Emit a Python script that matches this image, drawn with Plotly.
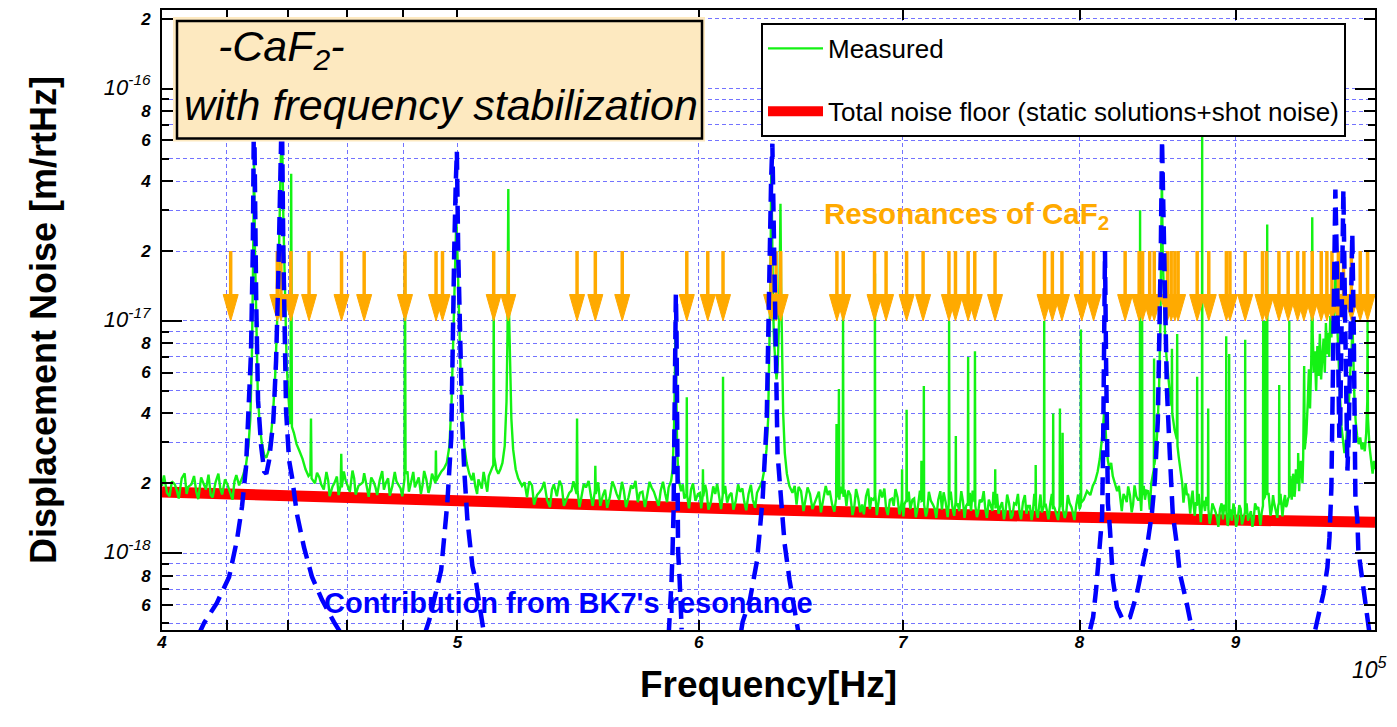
import math
import plotly.graph_objects as go

# ---------------------------------------------------------------------------
# DATA  (frequency in kHz, amplitude in units of 1e-18 m/rtHz)
# ---------------------------------------------------------------------------
measured = [
    (400.0, 1.95), (401.5, 1.82), (403.0, 2.04), (404.5, 1.86), (406.0, 2.10), (407.5, 1.80),
    (409.0, 1.98), (410.5, 1.84), (412.0, 2.12), (413.5, 1.88), (415.0, 1.78), (416.5, 2.02),
    (418.0, 1.90), (419.5, 2.08), (421.0, 1.85), (422.5, 2.04), (424.0, 1.96),
    (425.2, 2.15), (426.2, 2.40), (427.0, 2.9), (427.6, 3.8), (428.1, 7.0), (428.5, 18),
    (428.8, 49), (429.1, 20), (429.5, 9.0), (430.0, 5.0), (430.6, 3.6), (431.3, 3.0),
    (432.1, 2.65), (432.8, 2.58), (433.5, 2.75), (434.3, 3.2), (435.0, 4.0), (435.7, 5.8),
    (436.3, 9.5), (436.9, 18), (437.4, 40), (437.9, 75), (438.4, 28), (438.9, 12),
    (439.5, 6.5), (440.2, 4.5), (440.75, 3.6), (441.0, 43), (441.25, 3.5), (441.9, 3.3),
    (442.8, 2.95), (443.8, 2.75), (444.8, 2.55), (445.8, 2.3), (446.8, 2.15), (447.45, 2.2),
    (447.65, 3.8), (447.85, 2.1), (449.0, 2.0),
    (450.5, 2.12), (452.0, 1.88), (453.5, 2.06), (455.0, 1.94), (456.5, 2.14), (457.8, 1.96),
    (458.0, 2.68), (458.2, 1.92), (459.5, 2.06), (461.0, 1.84), (462.5, 2.10), (464.0, 1.95),
    (465.5, 2.02), (467.0, 1.86), (468.5, 2.12), (470.0, 1.92), (471.5, 2.06), (473.0, 1.88),
    (474.5, 2.10), (476.0, 1.94), (477.5, 2.04), (479.0, 1.90), (480.4, 2.08), (480.6, 19),
    (480.8, 2.2), (481.5, 2.25), (482.8, 2.02), (484.2, 1.92), (485.6, 2.12), (487.0, 1.96),
    (488.4, 2.08), (489.8, 1.94), (491.0, 2.12), (491.8, 2.0), (491.95, 2.77), (492.1, 2.05),
    (493.0, 2.15), (494.0, 2.25), (495.0, 2.32), (496.0, 2.45), (497.0, 2.9), (497.8, 4.5),
    (498.4, 8), (499.0, 17), (499.6, 27.7), (500.1, 18), (500.7, 9), (501.3, 5.5),
    (501.9, 3.8), (502.6, 2.9), (503.5, 2.45), (504.5, 2.2), (505.5, 2.06), (506.8, 1.94),
    (508.0, 2.08), (509.3, 1.90), (510.6, 2.04), (512.0, 2.15), (513.0, 2.3), (513.75, 2.4),
    (513.9, 12), (514.1, 2.6), (514.9, 2.3), (515.7, 2.2), (516.5, 2.3), (517.3, 2.45),
    (518.2, 2.9), (518.9, 4.5), (519.3, 9), (519.45, 24), (519.6, 37), (519.8, 12),
    (520.3, 6), (520.8, 3.8), (521.5, 2.8), (522.5, 2.3), (523.5, 2.1), (525.0, 1.95),
    (527.0, 1.74), (529.0, 1.96), (531.0, 1.78), (533.0, 1.90), (535.0, 1.70), (537.0, 1.88),
    (539.0, 1.76), (541.0, 1.95), (543.0, 1.72), (545.0, 1.86), (547.1, 1.80), (547.3, 3.8),
    (547.5, 1.85), (549.0, 1.72), (551.0, 1.92), (553.0, 1.78), (554.75, 1.86), (554.9, 2.38),
    (555.1, 1.80), (557.0, 1.60), (559.0, 1.88), (561.0, 1.74), (563.0, 1.93), (565.0, 1.70),
    (567.0, 1.86), (569.0, 1.74), (571.0, 1.90), (573.0, 1.66), (575.0, 1.84), (577.0, 1.76),
    (579.0, 1.92), (581.0, 1.72), (583.0, 1.86), (585.0, 1.80), (586.5, 1.92), (587.6, 2.05),
    (588.3, 2.3), (588.9, 3.5), (589.3, 6), (589.6, 10.8), (589.9, 5), (590.3, 2.8),
    (590.9, 2.1), (592.0, 1.85), (593.5, 1.72), (594.45, 1.80), (594.6, 4.7), (594.75, 1.78),
    (596.5, 1.88), (598.5, 1.68), (600.5, 1.82), (601.75, 1.75), (601.9, 2.3), (602.05, 1.76),
    (603.5, 1.86), (605.5, 1.66), (607.5, 1.80), (609.5, 1.72), (610.95, 1.78), (611.1, 5.75),
    (611.25, 1.80), (613.0, 1.65), (615.0, 1.82), (617.0, 1.68), (619.0, 1.84), (621.0, 1.66),
    (623.0, 1.80), (625.0, 1.70), (627.0, 1.82), (628.5, 1.95), (629.5, 2.05), (630.5, 2.3),
    (631.5, 2.8), (632.3, 3.8), (632.9, 7), (633.4, 15), (633.8, 48.6), (634.2, 22),
    (634.6, 12), (635.1, 8.2), (635.7, 6.3), (636.3, 5.6), (636.9, 6.5), (637.5, 10),
    (637.9, 18), (638.2, 32), (638.5, 14), (638.9, 7), (639.5, 4), (640.3, 2.7),
    (641.3, 2.2), (642.5, 1.95), (644.0, 1.82),
    (646.0, 1.62), (648.2, 1.85), (650.4, 1.70), (652.6, 1.80), (654.8, 1.64), (657.0, 1.84),
    (659.2, 1.68), (661.4, 1.78), (663.6, 1.62), (665.6, 1.72), (665.8, 3.6), (666.0, 1.75),
    (666.8, 1.8), (667.0, 5.1), (667.2, 1.7), (668.9, 1.8), (669.1, 10.5), (669.3, 1.75),
    (670.8, 1.60), (672.8, 1.78), (674.8, 1.58), (676.8, 1.72), (678.8, 1.62), (680.8, 1.76),
    (682.8, 1.55), (684.6, 1.70), (685.3, 1.75), (685.4, 16), (685.55, 1.8), (687.2, 1.62),
    (689.2, 1.74), (691.2, 1.56), (693.2, 1.70), (695.2, 1.60), (697.2, 1.74), (699.0, 1.58),
    (699.5, 1.7), (699.6, 2.3), (699.7, 1.68), (700.8, 1.62), (701.9, 1.7), (702.0, 4.15),
    (702.15, 1.66), (704.0, 1.55), (706.0, 1.72), (708.0, 1.58), (709.8, 1.7), (709.9, 2.5),
    (710.0, 1.68), (711.1, 1.7), (711.2, 5.25), (711.35, 1.62), (713.0, 1.52), (715.0, 1.68),
    (717.0, 1.56), (719.0, 1.70), (721.0, 1.54), (723.0, 1.66), (724.7, 1.62), (724.9, 10),
    (725.1, 1.7), (726.7, 1.58), (728.45, 1.66), (728.6, 3.2), (728.75, 1.6), (730.5, 1.52),
    (732.5, 1.68), (734.3, 1.6), (735.25, 1.65), (735.4, 7), (735.55, 1.6), (737.0, 1.52),
    (739.0, 1.66), (739.2, 7.4), (739.4, 1.6), (741.0, 1.5), (743.0, 1.66), (745.0, 1.55),
    (747.0, 1.70), (749.0, 1.52), (750.45, 1.62), (750.6, 2.3), (750.75, 1.56), (752.5, 1.48),
    (754.5, 1.66), (756.5, 1.52), (758.5, 1.64), (760.5, 1.46), (762.5, 1.62), (764.5, 1.50),
    (766.5, 1.66), (768.5, 1.48), (770.5, 1.60), (772.3, 1.52), (773.8, 1.6), (773.9, 2.4),
    (774.1, 1.55), (776.0, 1.62), (777.5, 1.5), (778.75, 1.6), (778.9, 10), (779.05, 1.62),
    (780.5, 1.5), (782.5, 1.64), (784.05, 1.55), (784.2, 4.0), (784.35, 1.6), (786.0, 1.48),
    (788.05, 1.6), (788.2, 4.2), (788.35, 1.58), (789.65, 1.62), (789.8, 3.3), (789.95, 1.55),
    (792.0, 1.5), (794.0, 1.64), (796.0, 1.48), (798.0, 1.62), (800.0, 1.55), (800.65, 1.6),
    (800.8, 9.2), (800.95, 1.65), (802.5, 1.7), (804.5, 1.85), (806.5, 1.78), (808.0, 1.95),
    (809.5, 2.05), (811.0, 2.25), (812.3, 2.55), (813.3, 2.9), (814.2, 3.4), (815.0, 4.1),
    (815.7, 3.6), (816.4, 2.9), (817.3, 2.5), (818.3, 2.3), (819.3, 2.45), (820.3, 2.15),
    (821.5, 2.0), (823.0, 1.85), (825.0, 1.72), (827.0, 1.8), (829.0, 1.66), (831.0, 1.78),
    (833.0, 1.62), (835.0, 1.76), (837.25, 1.7), (837.4, 30), (837.55, 1.75), (838.55, 1.8),
    (838.7, 10), (838.85, 1.78), (840.5, 1.7), (842.5, 1.85), (844.5, 2.0), (846.15, 2.3),
    (846.3, 6.9), (846.45, 2.4), (847.5, 2.7), (848.6, 3.6), (849.5, 5.2), (850.3, 9.5),
    (850.9, 22), (851.3, 44), (851.8, 20), (852.5, 12), (853.4, 8.5), (854.3, 7.0),
    (855.3, 5.8), (856.3, 5.0), (857.3, 4.4), (857.6, 4.3), (857.8, 7.6), (858.0, 4.0),
    (859.5, 3.4), (860.7, 3.1), (861.0, 3.1), (861.2, 8.8), (861.4, 2.9), (862.2, 2.6),
    (863.1, 2.3), (864.5, 2.0), (866.0, 1.85), (867.6, 1.78), (869.0, 1.66), (870.5, 1.72),
    (872.0, 1.6), (873.5, 1.66), (874.15, 1.6), (874.3, 5.75), (874.45, 1.62), (876.0, 1.56),
    (877.45, 1.62), (877.6, 64), (877.75, 1.65), (879.5, 1.52), (881.45, 1.6), (881.6, 4.2),
    (881.75, 1.55), (883.5, 1.45), (885.5, 1.58), (887.5, 1.42), (889.5, 1.55), (891.5, 1.40),
    (893.55, 1.52), (893.7, 8.6), (893.85, 1.5), (895.55, 1.45), (895.7, 7.2), (895.85, 1.48),
    (897.5, 1.38), (899.5, 1.52), (901.5, 1.40), (903.5, 1.55), (905.5, 1.42), (906.45, 1.5),
    (906.6, 8.3), (906.75, 1.48), (908.5, 1.38), (910.5, 1.52), (912.5, 1.42), (914.5, 1.56),
    (916.5, 1.44), (918.0, 1.5), (918.85, 1.6), (919.0, 10), (919.15, 1.7), (920.25, 1.75),
    (920.4, 10), (920.55, 1.8), (921.65, 1.8), (921.8, 26), (921.95, 1.8), (923.5, 1.62),
    (925.0, 1.55), (926.5, 1.66), (928.0, 1.52), (929.5, 1.6), (930.05, 1.65), (930.2, 5.3),
    (930.35, 1.62), (931.8, 1.55), (933.5, 1.68), (935.0, 1.58), (936.5, 1.72), (937.15, 1.75),
    (937.3, 10), (937.45, 1.8), (938.5, 1.95), (939.5, 1.85), (940.5, 2.05), (941.5, 1.9),
    (942.5, 2.15), (943.45, 2.0), (943.6, 2.7), (943.75, 2.1), (945.0, 2.35), (946.2, 2.2),
    (947.2, 2.6), (947.9, 6.4), (948.3, 2.8), (949.5, 3.3), (950.5, 4.5), (951.3, 6.2),
    (952.1, 4.2), (953.0, 6.8), (953.5, 12), (953.7, 28), (954.0, 9), (954.8, 6.0),
    (955.6, 7.4), (956.5, 5.0), (957.4, 7.8), (958.3, 5.8), (959.2, 8.8), (960.1, 5.6),
    (961.0, 7.0), (961.9, 8.4), (962.8, 6.0), (963.6, 9.8), (964.4, 7.2), (965.2, 8.9),
    (966.0, 7.0), (966.8, 10.5), (967.6, 8.5), (968.4, 12), (969.2, 9.5), (970.0, 14),
    (970.8, 17), (971.5, 11), (972.3, 7.8), (973.1, 6.0), (974.0, 4.6), (975.0, 3.5),
    (976.0, 3.0), (977.2, 2.7), (978.4, 3.0), (979.5, 3.6), (980.6, 4.6), (981.6, 6.2),
    (982.5, 7.5), (983.1, 10), (983.7, 6.5), (984.5, 4.8), (985.5, 3.7), (986.6, 3.2),
    (987.8, 2.95), (988.9, 3.15), (990.0, 2.8), (991.2, 3.0), (992.3, 2.75), (993.4, 3.3),
    (994.2, 4.5), (994.4, 10), (994.7, 3.8), (995.8, 2.9), (997.0, 2.45), (998.2, 2.2),
    (999.2, 2.5), (1000.0, 2.3),
]

# additional read-off noise samples of the measured floor (between the above)
measured_fuzz = [
    (400.6, 2.16), (402.3, 1.76), (403.9, 1.98), (405.1, 1.72), (406.9, 2.21), (408.0, 1.93),
    (409.8, 2.15), (411.1, 1.71), (412.9, 1.96), (414.3, 2.18), (415.6, 1.74), (417.4, 2.20),
    (418.6, 1.79), (420.3, 1.97), (421.9, 1.70), (423.1, 2.17),
    (449.7, 2.22), (451.1, 1.98), (452.9, 2.24), (454.0, 1.76), (455.6, 2.00), (457.1, 1.78),
    (458.9, 2.25), (460.1, 1.97), (461.9, 2.27), (463.0, 1.79), (464.9, 1.99), (466.0, 2.21),
    (467.6, 1.75), (469.4, 2.02), (470.6, 1.78), (472.4, 2.26), (473.6, 2.00), (475.1, 1.77),
    (476.9, 2.24), (478.0, 1.99), (479.6, 1.76),
    (482.0, 1.84), (483.6, 2.24), (484.8, 2.00), (486.4, 1.80), (487.6, 2.26), (489.2, 1.82),
    (490.5, 2.20),
    (506.1, 2.22), (507.5, 1.80), (508.5, 2.00), (510.0, 2.24), (511.4, 1.84),
    (526.0, 2.02), (527.9, 2.04), (529.8, 1.62), (532.1, 1.84), (533.9, 2.03), (536.2, 1.58),
    (537.8, 1.98), (540.1, 2.05), (541.9, 1.60), (544.1, 1.82), (545.8, 2.04), (548.3, 1.58),
    (550.1, 1.99), (552.1, 2.05), (553.8, 1.60), (556.1, 2.02), (558.1, 1.78), (559.9, 1.57),
    (562.1, 2.04), (563.9, 1.80), (566.2, 2.03), (567.9, 1.58), (570.1, 1.96), (572.0, 2.05),
    (573.9, 1.82), (576.1, 1.58), (578.1, 2.03), (580.0, 1.84), (582.1, 1.60), (584.0, 2.03),
    (585.8, 1.66),
    (592.8, 1.98), (595.6, 1.56), (597.4, 2.00), (599.6, 1.80), (601.1, 1.56), (602.9, 1.97),
    (604.4, 1.54), (606.6, 1.94), (608.4, 1.99), (610.2, 1.55), (612.1, 1.95), (614.1, 1.78),
    (615.9, 1.54), (618.1, 1.98), (620.1, 1.90), (621.9, 1.53), (624.1, 1.97), (626.1, 1.57),
    (645.1, 1.95), (647.0, 1.93), (649.4, 1.52), (651.4, 1.92), (653.8, 1.55), (655.8, 1.74),
    (658.0, 1.50), (660.4, 1.95), (662.4, 1.86), (664.7, 1.51), (667.7, 1.93),
    (669.9, 1.88), (671.7, 1.86), (673.9, 1.46), (675.7, 1.89), (677.9, 1.50), (679.7, 1.47),
    (681.9, 1.90), (683.6, 1.72), (686.4, 1.46), (688.1, 1.88), (690.3, 1.90), (692.1, 1.46),
    (694.3, 1.72), (696.1, 1.89), (698.2, 1.47),
    (700.3, 1.44), (703.1, 1.84), (705.1, 1.70), (706.9, 1.43), (709.1, 1.86), (712.3, 1.44),
    (713.9, 1.84), (716.1, 1.62), (717.9, 1.42), (720.1, 1.85), (721.9, 1.83), (724.1, 1.43),
    (725.8, 1.84), (727.7, 1.45), (729.5, 1.64), (731.6, 1.85), (733.4, 1.42), (736.3, 1.82),
    (737.9, 1.86), (740.3, 1.43), (741.9, 1.70), (744.1, 1.85), (745.9, 1.42), (748.1, 1.60),
    (749.6, 1.84),
    (751.6, 1.80), (753.4, 1.58), (755.6, 1.40), (757.4, 1.79), (759.6, 1.41), (761.4, 1.64),
    (763.6, 1.80), (765.4, 1.40), (767.6, 1.78), (769.4, 1.60), (771.5, 1.39), (773.1, 1.80),
    (775.1, 1.42), (776.7, 1.79), (779.8, 1.62), (781.4, 1.40), (783.4, 1.80), (785.1, 1.56),
    (787.1, 1.39), (788.9, 1.79), (791.1, 1.42), (792.9, 1.78), (795.1, 1.58), (796.9, 1.39),
    (799.1, 1.79),
    (824.1, 1.95), (825.9, 1.52), (828.1, 1.74), (829.9, 1.94), (832.1, 1.50), (833.9, 1.96),
    (836.1, 1.70), (838.1, 1.52), (839.7, 1.95), (841.4, 1.86), (843.6, 1.54),
    (865.3, 1.65), (866.7, 2.00), (868.4, 1.80), (869.7, 1.48), (871.3, 1.86), (872.7, 1.45),
    (875.3, 1.80), (876.7, 1.36), (878.6, 1.66), (880.4, 1.75), (882.6, 1.34), (884.4, 1.64),
    (886.6, 1.50), (888.4, 1.30), (890.6, 1.64), (892.4, 1.62), (894.7, 1.31), (896.4, 1.55),
    (898.6, 1.64), (900.4, 1.30), (902.6, 1.61), (904.4, 1.33), (907.6, 1.64), (909.4, 1.45),
    (911.6, 1.30), (913.4, 1.64), (915.6, 1.58), (917.1, 1.32), (922.8, 1.80), (924.1, 1.45),
    (925.9, 1.78), (927.1, 1.60), (928.9, 1.42), (931.1, 1.80), (932.5, 1.44), (934.3, 1.78),
    (935.7, 1.62), (938.0, 2.15), (939.0, 1.70), (940.0, 2.20), (941.0, 1.75), (942.0, 2.30),
    (944.3, 1.85), (945.6, 2.50), (946.7, 2.00),
]

# Total noise floor (static solutions + shot noise)
floor_khz = [400.0, 480.0, 640.0, 800.0, 1000.0]
floor_amp = [1.836, 1.705, 1.53, 1.427, 1.358]

# Contribution from BK7's resonances (each list is one visible branch)
bk7_430 = [
    (411.0, 0.44), (412.9, 0.50), (416.9, 0.61), (420.8, 0.79), (423.3, 1.14), (424.9, 1.58),
    (426.2, 2.34), (427.1, 3.99), (427.8, 7.2), (428.4, 20), (428.8, 90), (429.5, 12.2),
    (430.1, 4.54), (431.1, 2.9), (432.1, 2.25), (432.8, 2.2), (433.7, 2.51), (435.1, 3.72),
    (436.0, 6.74), (436.7, 14.9), (437.3, 39.9), (437.9, 85), (438.4, 20), (439.3, 4.11),
    (440.3, 2.51), (441.3, 2.12), (442.9, 1.48), (445.3, 1.06), (448.0, 0.79), (451.4, 0.63),
    (455.5, 0.505), (458.5, 0.44),
]
bk7_500 = [
    (487.7, 0.445), (489.5, 0.516), (493.9, 0.845), (495.0, 1.14), (496.2, 1.64), (497.7, 3.15),
    (498.1, 7.2), (498.8, 20), (499.4, 39.9), (499.8, 53.6), (500.3, 20), (501.1, 7.2),
    (501.8, 3.72), (502.6, 2.27), (503.8, 1.39), (505.7, 0.88), (507.2, 0.74), (508.4, 0.6),
    (509.5, 0.49), (510.3, 0.44),
]
bk7_590 = [
    (586.5, 0.44), (586.9, 0.505), (587.8, 0.766), (588.2, 1.0), (588.7, 1.53), (589.1, 3.72),
    (589.4, 9.06), (589.7, 13.0), (590.0, 9.06), (590.5, 2.51), (590.7, 1.03), (591.4, 0.766),
    (591.8, 0.57), (592.3, 0.47),
]
bk7_634 = [
    (619.5, 0.46), (620.2, 0.505), (623.6, 0.628), (627.0, 0.93), (628.2, 1.22), (629.7, 1.74),
    (631.6, 3.72), (632.1, 7.2), (633.0, 20), (633.7, 40), (634.3, 58), (635.2, 20),
    (636.0, 7.2), (636.8, 2.68), (638.8, 1.575), (640.2, 1.1), (642.6, 0.766), (645.0, 0.57),
    (646.5, 0.475), (647.2, 0.44),
]
bk7_815 = [
    (806.4, 0.47), (808.2, 0.53), (810.0, 0.694), (811.2, 0.87), (812.5, 1.17), (813.7, 1.43),
    (814.3, 2.68), (814.6, 7.2), (815.2, 18.1), (815.5, 20), (816.1, 7.2), (816.7, 2.68),
    (817.3, 1.64), (818.6, 1.255), (819.8, 0.96), (820.4, 0.766), (822.9, 0.586), (826.6, 0.516),
    (831.0, 0.53), (835.4, 0.67), (839.3, 0.906), (842.4, 1.137), (844.9, 1.485), (846.8, 2.06),
    (848.7, 3.72), (850.0, 10), (850.6, 20), (851.4, 60), (852.6, 24.3), (853.2, 13.8),
    (854.5, 5.16), (856.4, 2.68), (858.3, 1.485), (860.9, 1.1), (862.9, 0.82), (867.4, 0.61),
    (870.5, 0.49), (871.5, 0.45),
]
bk7_970 = [
    (955.9, 0.47), (958.1, 0.53), (961.8, 0.67), (964.7, 0.87), (966.2, 1.17), (967.6, 1.92),
    (968.4, 3.72), (969.1, 10), (969.8, 22), (970.5, 36.8), (971.6, 18), (972.7, 5.5),
    (973.4, 3.14), (974.1, 3.72), (975.2, 12.2), (976.4, 36.8), (977.5, 12.2), (978.6, 3.37),
    (979.4, 2.27), (980.4, 3.37), (981.5, 10), (983.0, 23.8), (984.1, 9.06), (985.3, 1.74),
    (986.8, 1.386), (987.5, 1.03), (990.5, 0.766), (992.8, 0.61), (994.4, 0.516), (996.0, 0.445),
]

# Resonance frequencies of CaF2 (orange arrows), kHz
caf2_resonances_khz = [
    421.3, 436.4, 437.6, 440.9, 447.0, 458.1, 466.0, 480.6, 492.0, 494.4, 513.9, 519.6,
    547.3, 554.9, 566.3, 594.6, 604.1, 611.1, 633.7, 636.1, 638.3, 666.0, 669.2, 685.2,
    691.2, 702.0, 710.8, 724.8, 728.4, 735.4, 739.1, 750.5, 779.1, 783.7, 789.4, 801.3,
    808.5, 828.0, 836.8, 839.0, 843.5, 846.4, 854.9, 857.3, 859.7, 861.8, 874.3, 882.0,
    893.8, 896.2, 906.6, 918.5, 921.3, 930.0, 936.5, 943.2, 947.7, 953.7, 960.2, 964.3,
    968.0, 972.7, 976.5, 982.3, 988.9, 994.4,
]

# Axis ticks
x_tick_vals = [4e5, 5e5, 6e5, 7e5, 8e5, 9e5]
x_tick_text = ["4", "5", "6", "7", "8", "9"]
x_minor_vals = [4.2e5, 4.4e5, 4.6e5, 4.8e5]
y_tick_vals = [6e-19, 8e-19, 1e-18, 2e-18, 4e-18, 6e-18, 8e-18, 1e-17, 2e-17, 4e-17,
               6e-17, 8e-17, 1e-16, 2e-16]
y_tick_text = ["6", "8", "10|-18", "2", "4", "6", "8", "10|-17", "2", "4",
               "6", "8", "10|-16", "2"]
y_minor_vals = [5e-19, 7e-19, 9e-19, 3e-18, 5e-18, 7e-18, 9e-18, 3e-17, 5e-17, 7e-17, 9e-17]
y_decade_vals = [1e-18, 1e-17, 1e-16]

# Arrow geometry (amplitude levels, in 1e-18 units) - style
ARROW_TOP, ARROW_HEAD_BASE, ARROW_TIP = 20.0, 13.0, 10.0

# ---------------------------------------------------------------------------
FONT = "Liberation Sans, Arial, Helvetica, sans-serif"
W, H = 1397, 727
L, R, T, B = 162, 22, 8, 97
PW, PH = W - L - R, H - T - B
X_RANGE = [math.log10(4e5), 6.0]
Y_RANGE = [-18.3305, -15.661]
PX_PER_DECADE_X = PW / (X_RANGE[1] - X_RANGE[0])


def px(x):
    return (x - L) / PW


def py(y):
    return (H - B - y) / PH


def decade_label(t):
    if "|" in t:
        base, exp = t.split("|")
        return ('<span style="font-weight:normal;font-size:22px">' + base +
                "<sup>" + exp + "</sup></span>")
    return t


KHZ, UNIT = 1e3, 1e-18

meas_all = sorted(measured + measured_fuzz)

fig = go.Figure()

# Total noise floor (red, thick)
fig.add_trace(go.Scatter(
    x=[f * KHZ for f in floor_khz], y=[v * UNIT for v in floor_amp],
    mode="lines", line=dict(color="#ff0000", width=11),
    name="Total noise floor (static solutions+shot noise)",
    legendgroup="floor", legendrank=2,
))

# Measured (green)
fig.add_trace(go.Scatter(
    x=[p[0] * KHZ for p in meas_all], y=[p[1] * UNIT for p in meas_all],
    mode="lines", line=dict(color="#14f214", width=2.4),
    name="Measured", legendgroup="meas", legendrank=1,
))

# CaF2 resonance arrows
half_w = 7.5 / PX_PER_DECADE_X
shaft_x, shaft_y, head_x, head_y = [], [], [], []
for f in caf2_resonances_khz:
    fx = f * KHZ
    shaft_x += [fx, fx, None]
    shaft_y += [ARROW_TOP * UNIT, ARROW_HEAD_BASE * UNIT, None]
    head_x += [fx * 10 ** (-half_w), fx * 10 ** half_w, fx, fx * 10 ** (-half_w), None]
    head_y += [ARROW_HEAD_BASE * UNIT, ARROW_HEAD_BASE * UNIT, ARROW_TIP * UNIT,
               ARROW_HEAD_BASE * UNIT, None]
fig.add_trace(go.Scatter(x=shaft_x, y=shaft_y, mode="lines",
                         line=dict(color="#ffaa00", width=3.5), showlegend=False,
                         hoverinfo="skip"))
fig.add_trace(go.Scatter(x=head_x, y=head_y, mode="lines", fill="toself",
                         fillcolor="#ffaa00", line=dict(color="#ffaa00", width=1),
                         showlegend=False, hoverinfo="skip"))

# BK7 contribution (blue dashed)
bx, by = [], []
for seg in [bk7_430, bk7_500, bk7_590, bk7_634, bk7_815, bk7_970]:
    bx += [p[0] * KHZ for p in seg] + [None]
    by += [p[1] * UNIT for p in seg] + [None]
fig.add_trace(go.Scatter(x=bx, y=by, mode="lines", connectgaps=False,
                         line=dict(color="#0000ff", width=4.5, dash="18px,9px"),
                         showlegend=False, hoverinfo="skip"))

# invisible trace on overlay axis (decade ticks)
fig.add_trace(go.Scatter(x=[None], y=[None], yaxis="y2", showlegend=False, hoverinfo="skip"))

grid_col = "#7373ff"
tickfont = dict(family=FONT, size=17, color="black", style="italic", weight="bold")

fig.update_layout(
    width=W, height=H, autosize=False,
    margin=dict(l=L, r=R, t=T, b=B, pad=0),
    paper_bgcolor="white", plot_bgcolor="white",
    font=dict(family=FONT, color="black"),
    showlegend=True,
    legend=dict(x=px(761), y=py(21), xanchor="left", yanchor="top",
                bgcolor="white", bordercolor="black", borderwidth=2,
                font=dict(family=FONT, size=26, color="black"),
                itemwidth=55, traceorder="grouped", tracegroupgap=26),
    xaxis=dict(
        type="log", range=X_RANGE, showline=True, linecolor="black", linewidth=2,
        mirror="ticks", ticks="inside", ticklen=10, tickwidth=2, tickcolor="black",
        tickvals=x_tick_vals, ticktext=x_tick_text, tickfont=tickfont,
        ticklabelstandoff=-4,
        showgrid=True, gridcolor=grid_col, griddash="4px,3px", gridwidth=1,
        minor=dict(tickvals=x_minor_vals, ticks="inside", ticklen=10, tickwidth=2,
                   tickcolor="black", showgrid=True, gridcolor=grid_col,
                   griddash="4px,3px", gridwidth=1),
        zeroline=False,
        title=dict(text="Frequency[Hz]", standoff=20,
                   font=dict(family=FONT, size=37, color="black", weight="bold")),
    ),
    yaxis=dict(
        type="log", range=Y_RANGE, showline=True, linecolor="black", linewidth=2,
        mirror="ticks", ticks="inside", ticklen=11, tickwidth=2, tickcolor="black",
        tickvals=y_tick_vals, ticktext=[decade_label(t) for t in y_tick_text],
        tickfont=tickfont,
        ticklabelstandoff=6,
        showgrid=True, gridcolor=grid_col, griddash="4px,3px", gridwidth=1,
        minor=dict(tickvals=y_minor_vals, ticks="inside", ticklen=7, tickwidth=2,
                   tickcolor="black", showgrid=True, gridcolor=grid_col,
                   griddash="4px,3px", gridwidth=1),
        zeroline=False,
        title=dict(text="Displacement Noise [m/rtHz]", standoff=36,
                   font=dict(family=FONT, size=36, color="black", weight="bold")),
    ),
    yaxis2=dict(
        type="log", range=Y_RANGE, overlaying="y", anchor="x", side="left",
        tickvals=y_decade_vals, ticks="inside", ticklen=20, tickwidth=2, tickcolor="black",
        showticklabels=False, showgrid=False, showline=False, mirror="ticks", zeroline=False,
    ),
)

# Title box
fig.add_shape(type="rect", xref="paper", yref="paper", layer="above",
              x0=px(173), x1=px(705), y0=py(140), y1=py(15),
              fillcolor="#fde9c0", line=dict(width=0))
fig.add_shape(type="rect", xref="paper", yref="paper", layer="above",
              x0=px(177), x1=px(702), y0=py(137), y1=py(19),
              fillcolor="#fde9c0", line=dict(color="black", width=2.5))

ital43 = dict(family=FONT, size=43, color="black", style="italic")
fig.add_annotation(xref="paper", yref="paper", x=px(216), y=py(47), xanchor="left",
                   yanchor="middle", showarrow=False, text="-CaF<sub>2</sub>-", font=ital43)
fig.add_annotation(xref="paper", yref="paper", x=px(182), y=py(103), xanchor="left",
                   yanchor="middle", showarrow=False, text="with frequency stabilization",
                   font=ital43)

fig.add_annotation(xref="paper", yref="paper", x=px(822), y=py(214), xanchor="left",
                   yanchor="middle", showarrow=False, text="Resonances of CaF<sub>2</sub>",
                   font=dict(family=FONT, size=29.5, color="#ffaa00", weight="bold"))
fig.add_annotation(xref="paper", yref="paper", x=px(322), y=py(603), xanchor="left",
                   yanchor="middle", showarrow=False,
                   text="Contribution from BK7's resonance",
                   font=dict(family=FONT, size=29, color="#0000ff", weight="bold"))
fig.add_annotation(xref="paper", yref="paper", x=px(1350), y=py(668), xanchor="left",
                   yanchor="middle", showarrow=False, text="10<sup>5</sup>",
                   font=dict(family=FONT, size=23, color="black", style="italic"))

fig.write_html("out.html", include_plotlyjs=True, full_html=True,
               config={"displayModeBar": False},
               post_script="document.body.style.margin='0';document.body.style.overflow='hidden';")
